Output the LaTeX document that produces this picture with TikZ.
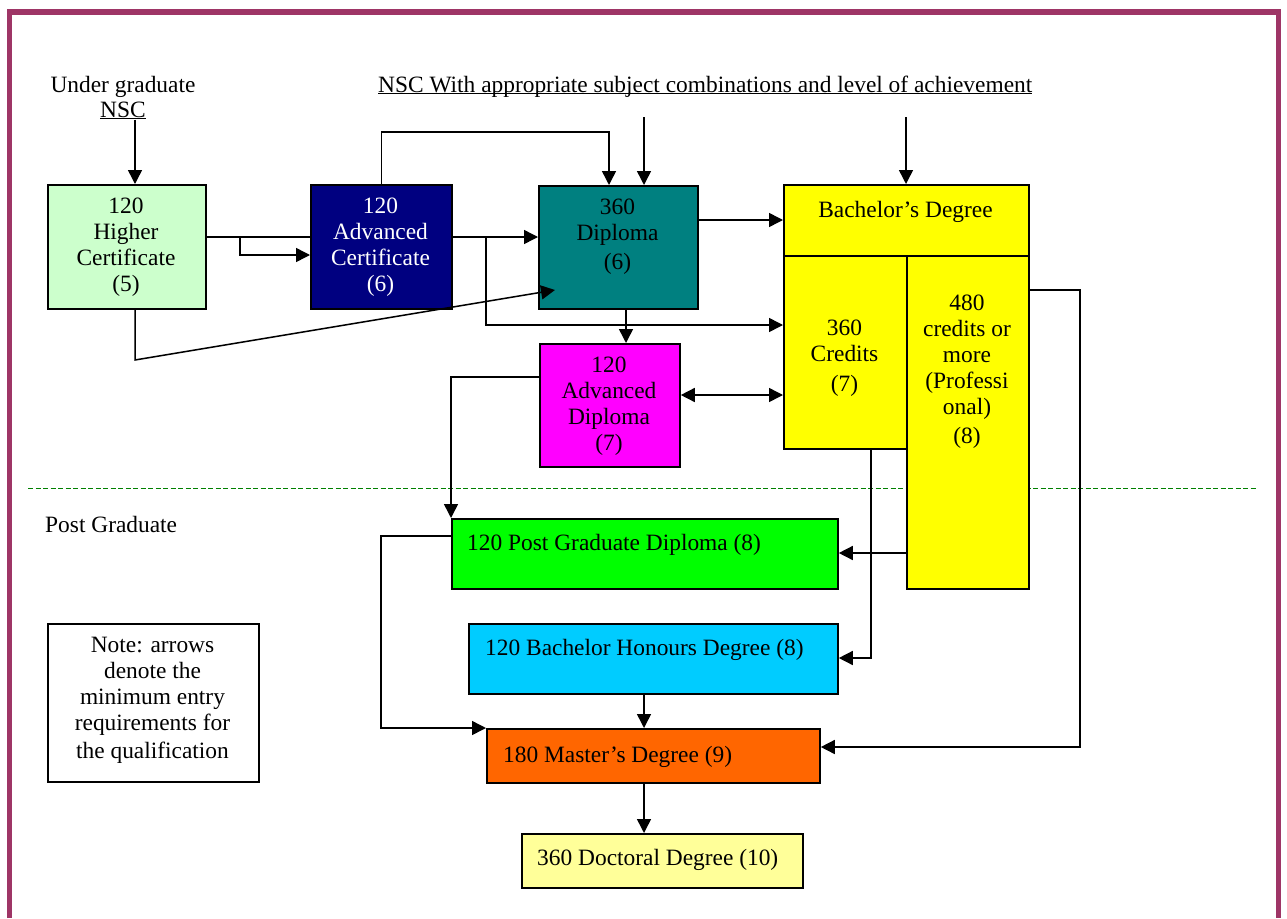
\documentclass[tikz,border=0pt]{standalone}
\usepackage{fontspec}
\setmainfont{Liberation Serif}
\usetikzlibrary{arrows.meta,calc}
\definecolor{hcgreen}{HTML}{CCFFCC}
\definecolor{acnavy}{HTML}{000080}
\definecolor{dipteal}{HTML}{008080}
\definecolor{bachyellow}{HTML}{FFFF00}
\definecolor{adipmag}{HTML}{FF00FF}
\definecolor{pgdgreen}{HTML}{00FF00}
\definecolor{honblue}{HTML}{00CCFF}
\definecolor{masorange}{HTML}{FF6600}
\definecolor{docyellow}{HTML}{FFFF99}
\definecolor{framepurple}{HTML}{9E3566}
\definecolor{dashgreen}{HTML}{008000}
\newcommand\myul[1]{\setbox0\hbox{#1}\rlap{\rule[-2.4pt]{\wd0}{1.4pt}}\box0}
\tikzset{
  box/.style={draw=black, line width=1.8pt, inner sep=0pt, anchor=north west},
  txt/.style={font=\fontsize{23.4}{26}\selectfont, align=center, inner sep=0pt, text=black},
  conn/.style={line width=1.5pt, -{Triangle[length=14pt,width=14pt]}},
  dconn/.style={line width=1.5pt, {Triangle[length=14pt,width=14pt]}-{Triangle[length=14pt,width=14pt]}},
  dashline/.style={draw=dashgreen, line width=1pt, dash pattern=on 5pt off 2.5pt},
  frameline/.style={draw=framepurple, line width=5.5pt},
}
\begin{document}
\begin{tikzpicture}[x=1pt,y=-1pt]
\useasboundingbox (0,0) rectangle (1287,918);
\fill[white] (0,0) rectangle (1287,918);
% frame
\coordinate (fbl) at (9.5,918);
\coordinate (ftl) at (9.5,12);
\coordinate (ftr) at (1278.5,12);
\coordinate (fbr) at (1278.5,918);
\draw[frameline] (fbl) -- (ftl) -- (ftr) -- (fbr);
% dashed separator
\coordinate (dl1) at (28,488);
\coordinate (dl2) at (1256,488);
\draw[dashline] (dl1) -- (dl2);

% boxes
\node[box, fill=hcgreen, minimum width=158pt, minimum height=124pt] (hc) at (47,184) {};
\node[box, fill=acnavy, minimum width=141pt, minimum height=124pt] (ac) at (310,184) {};
\node[box, fill=dipteal, minimum width=159pt, minimum height=123pt] (dip) at (538,185) {};
\node[box, fill=bachyellow, minimum width=245pt, minimum height=71pt] (bach) at (783,184) {};
\node[box, fill=bachyellow, minimum width=123pt, minimum height=193pt] (cred) at (783,255) {};
\node[box, fill=bachyellow, minimum width=122pt, minimum height=333pt] (prof) at (906,255) {};
\node[box, fill=adipmag, minimum width=140pt, minimum height=123pt] (adip) at (539,343) {};
\node[box, fill=pgdgreen, minimum width=386pt, minimum height=70pt] (pgd) at (451,518) {};
\node[box, fill=honblue, minimum width=369pt, minimum height=70pt] (hon) at (468,623) {};
\node[box, fill=masorange, minimum width=333pt, minimum height=54pt] (mas) at (486,728) {};
\node[box, fill=docyellow, minimum width=281pt, minimum height=54pt] (doc) at (521,833) {};
\node[box, fill=white, minimum width=211pt, minimum height=158pt] (note) at (47,623) {};

% texts
\node[txt, anchor=base] (ug) at (123,92) {Under graduate};
\node[txt, anchor=base] (ugnsc) at (123,117) {\myul{NSC}};
\node[txt, anchor=base west] (nschead) at (378,92) {\myul{NSC With appropriate subject combinations and level of achievement}};
\node[txt, anchor=base west] (pg) at (45,532) {Post Graduate};

\node[txt, anchor=north] (hct) at (126,198) {120\\Higher\\Certificate\\(5)};
\node[txt, anchor=north, text=white] (act) at (380.5,198) {120\\Advanced\\Certificate\\(6)};
\node[txt, anchor=north] (dipt) at (617.5,199) {360\\Diploma\\[3pt](6)};
\node[txt, anchor=base] (bacht) at (905.5,217) {Bachelor’s Degree};
\node[txt, anchor=north] (credt) at (844.5,320) {360\\Credits\\[4pt](7)};
\node[txt, anchor=north] (proft) at (967,295) {480\\credits or\\more\\(Professi\\onal)\\[3pt](8)};
\node[txt, anchor=north] (adipt) at (609,357) {120\\Advanced\\Diploma\\(7)};
\node[txt, anchor=base west] (pgdt) at (467,550) {120 Post Graduate Diploma (8)};
\node[txt, anchor=base west] (hont) at (485,655) {120 Bachelor Honours Degree (8)};
\node[txt, anchor=base west] (mast) at (503,762) {180 Master’s Degree (9)};
\node[txt, anchor=base west] (doct) at (537,865) {360 Doctoral Degree (10)};
\node[txt, anchor=north] (notet) at (152.5,637) {Note: arrows\\denote the\\minimum entry\\requirements for\\[2pt]the qualification};

% routing coordinates
\coordinate (x135) at (135,0);
\coordinate (x240) at (240,0);
\coordinate (x381) at (381,0);
\coordinate (x486) at (486,0);
\coordinate (x609) at (609,0);
\coordinate (x626) at (626,0);
\coordinate (x644) at (644,0);
\coordinate (x871) at (871,0);
\coordinate (x1080) at (1080,0);
\coordinate (y132) at (0,132);
\coordinate (y220) at (0,220);
\coordinate (y237) at (0,237);
\coordinate (y255) at (0,255);
\coordinate (y290) at (0,290);
\coordinate (y325) at (0,325);
\coordinate (y360) at (0,360);
\coordinate (y377) at (0,377);
\coordinate (y395) at (0,395);
\coordinate (y536) at (0,536);
\coordinate (y553) at (0,553);
\coordinate (y658) at (0,658);
\coordinate (y747) at (0,747);
\coordinate (nsc1) at (644,117);
\coordinate (nsc2) at (906,117);
\coordinate (diptip) at (555,290);

% connectors
\draw[conn] (ugnsc.south -| x135) -- (hc.north -| x135);
\draw[line width=1.5pt] (hc.east |- y237) -- (ac.west |- y237);
\draw[conn] (x240 |- y237) -- (x240 |- y255) -- (ac.west |- y255);
\draw[conn] (ac.north) |- (y132 -| x609) -- (dip.north -| x609);
\draw[conn] (nsc1) -- (dip.north -| nsc1);
\draw[conn] (ac.east |- y237) -- (dip.west |- y237);
\draw[conn] (x486 |- y237) |- (cred.west |- y325);
\draw[conn] (hc.south -| x135) -- (x135 |- y360) -- (diptip);
\draw[conn] (dip.east |- y220) -- (bach.west |- y220);
\draw[conn] (dip.south -| x626) -- (adip.north -| x626);
\draw[dconn] (adip.east |- y395) -- (cred.west |- y395);
\draw[conn] (nsc2) -- (bach.north -| nsc2);
\draw[conn] (adip.west |- y377) -| (pgd.north west);
\draw[conn] (prof.west |- y553) -- (pgd.east |- y553);
\draw[conn] (cred.south -| x871) |- (hon.east |- y658);
\draw[conn] (prof.east |- y290) -| (x1080 |- y747) -- (mas.east |- y747);
\draw[conn] (pgd.west |- y536) -| (x381 |- mas.north) -- (mas.north west);
\draw[conn] (hon.south -| x644) -- (mas.north -| x644);
\draw[conn] (mas.south -| x644) -- (doc.north -| x644);
\end{tikzpicture}
\end{document}
